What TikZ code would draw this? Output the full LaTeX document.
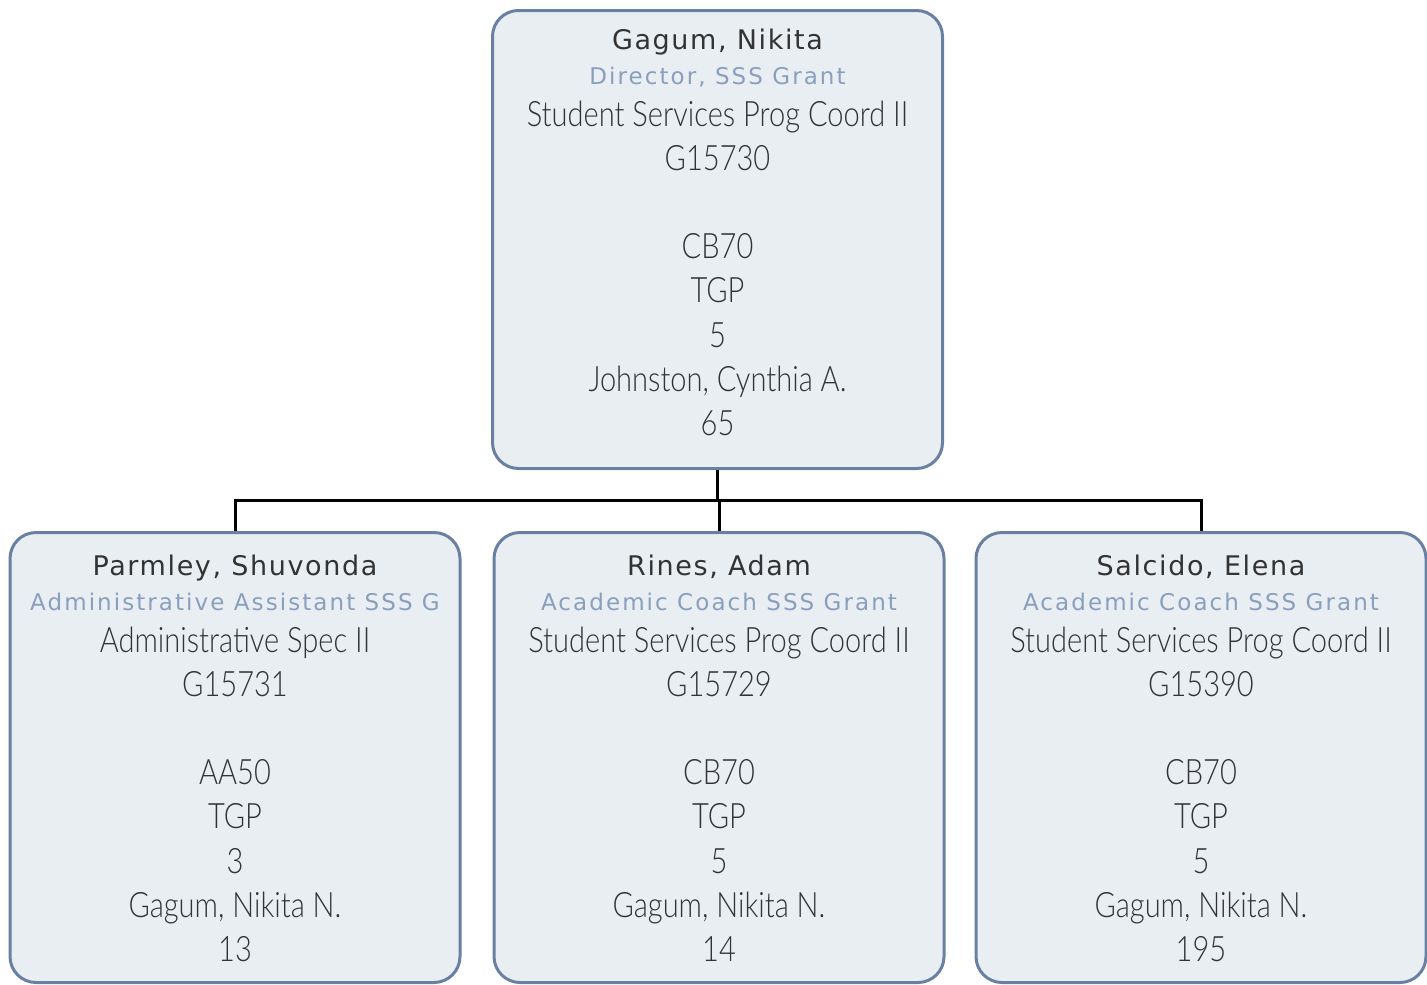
\documentclass[tikz,border=0pt]{standalone}
\usepackage{fontspec}
\setmainfont[FakeStretch=0.83]{Lato Light}
\newfontfamily\namefont[LetterSpace=6]{DejaVu Sans}
\newfontfamily\rolefont[LetterSpace=9]{DejaVu Sans}
\usetikzlibrary{positioning}

\definecolor{cardfill}{HTML}{E9EEF2}
\definecolor{cardline}{HTML}{6A80A3}
\definecolor{titlegrey}{HTML}{8A9FBD}
\definecolor{textgrey}{HTML}{333333}

\tikzset{
  card/.style={draw=cardline, fill=cardfill, line width=3pt, rounded corners=26pt,
    minimum width=450pt, minimum height=450pt},
  cardtext/.style={align=center, inner sep=0pt, text=textgrey,
    font=\fontsize{35}{44.2}\selectfont},
  link/.style={line width=3pt, black}
}
\newcommand{\who}[1]{{\namefont\fontsize{27}{30}\selectfont #1}}
\newcommand{\role}[1]{{\color{titlegrey}\rolefont\fontsize{23}{26}\selectfont #1}}

\begin{document}
\begin{tikzpicture}[x=1pt, y=-1pt]
  \useasboundingbox (0,0) rectangle (1427,985);

  % director
  \node[card, minimum height=458pt] (top) at (717.5,239.5) {};
  \node[cardtext, below=20pt of top.north] (topText) {%
    \who{Gagum, Nikita}\\[-9pt]
    \role{Director, SSS Grant}\\[-3pt]
    Student Services Prog Coord II\\
    G15730\\[44.2pt]
    CB70\\
    TGP\\
    5\\
    Johnston, Cynthia A.\\
    65};

  % staff
  \node[card] (left) at (235,757.5) {};
  \node[cardtext, below=24pt of left.north] (leftText) {%
    \who{Parmley, Shuvonda}\\[-9pt]
    \role{Administrative Assistant SSS G}\\[-3pt]
    Administrative Spec II\\
    G15731\\[44.2pt]
    AA50\\
    TGP\\
    3\\
    Gagum, Nikita N.\\
    13};

  \node[card] (mid) at (719,757.5) {};
  \node[cardtext, below=24pt of mid.north] (midText) {%
    \who{Rines, Adam}\\[-9pt]
    \role{Academic Coach SSS Grant}\\[-3pt]
    Student Services Prog Coord II\\
    G15729\\[44.2pt]
    CB70\\
    TGP\\
    5\\
    Gagum, Nikita N.\\
    14};

  \node[card] (right) at (1201,757.5) {};
  \node[cardtext, below=24pt of right.north] (rightText) {%
    \who{Salcido, Elena}\\[-9pt]
    \role{Academic Coach SSS Grant}\\[-3pt]
    Student Services Prog Coord II\\
    G15390\\[44.2pt]
    CB70\\
    TGP\\
    5\\
    Gagum, Nikita N.\\
    195};

  % reporting lines
  \draw[link] (top.south) -- ++(0,30) coordinate (bus);
  \draw[link] (left.north) |- (bus) -| (right.north);
  \draw[link] (mid.north) -- (mid.north |- bus);
\end{tikzpicture}
\end{document}
